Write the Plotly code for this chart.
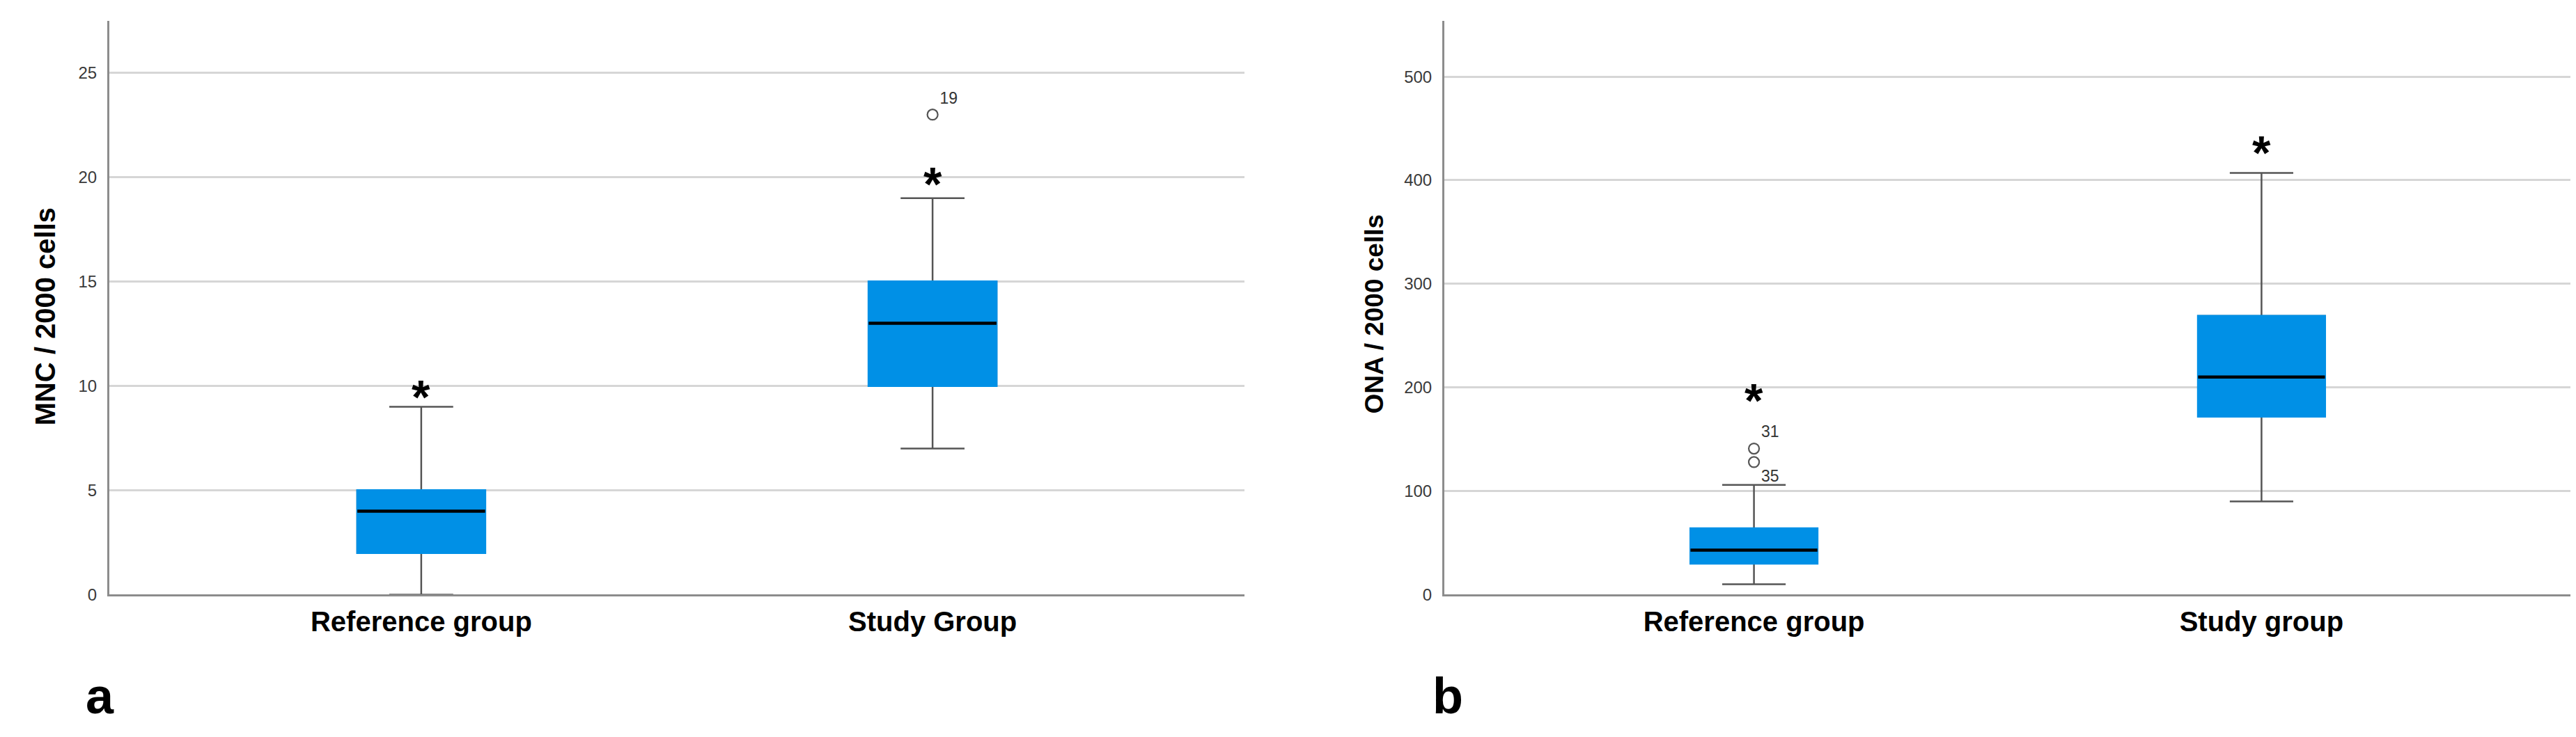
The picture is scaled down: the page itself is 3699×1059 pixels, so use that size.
import plotly.graph_objects as go

# ---------------- data ----------------
cats_a = ["Reference group", "Study Group"]
mnc_low = [0, 7]
mnc_q1 = [2, 10]
mnc_med = [4, 13]
mnc_q3 = [5, 15]
mnc_high = [9, 19]
mnc_out_x = ["Study Group"]
mnc_out_y = [23]
mnc_out_lab = ["19"]
mnc_star_y = [9.7, 19.9]

cats_b = ["Reference group", "Study group"]
ona_low = [10, 90]
ona_q1 = [30, 172]
ona_med = [43, 210]
ona_q3 = [64, 269]
ona_high = [106, 407]
ona_out_x = ["Reference group", "Reference group"]
ona_out_y = [141, 128]
ona_out_lab = ["31", "35"]
ona_star_y = [192, 431]

yticks_a = [0, 5, 10, 15, 20, 25]
yticks_b = [0, 100, 200, 300, 400, 500]

# ---------------- style ----------------
W, H = 3699, 1059
BLUE = "#0090E6"
WHISK = "#555555"
GRID = "#d6d6d6"
AXIS = "#8c8c8c"
BOXW = 0.25
FONT = "Liberation Sans, Arial, sans-serif"

fig = go.Figure()


def add_panel(xa, ya, cats, low, q1, med, q3, high):
    # whiskers + box (gray outline)
    fig.add_trace(go.Box(x=cats, q1=q1, median=med, q3=q3, lowerfence=low, upperfence=high,
                         fillcolor=BLUE, line=dict(color=WHISK, width=2.5), width=BOXW,
                         whiskerwidth=0.5, xaxis=xa, yaxis=ya, showlegend=False,
                         hoverinfo="skip", boxpoints=False))
    # blue box covering the outline
    fig.add_trace(go.Box(x=cats, q1=q1, median=q1, q3=q3, lowerfence=q1, upperfence=q3,
                         fillcolor=BLUE, line=dict(color=BLUE, width=3), width=BOXW,
                         whiskerwidth=0, xaxis=xa, yaxis=ya, showlegend=False,
                         hoverinfo="skip", boxpoints=False))
    # black median
    fig.add_trace(go.Box(x=cats, q1=med, median=med, q3=med, lowerfence=med, upperfence=med,
                         fillcolor="rgba(0,0,0,0)", line=dict(color="black", width=4.5), width=BOXW,
                         whiskerwidth=0, xaxis=xa, yaxis=ya, showlegend=False,
                         hoverinfo="skip", boxpoints=False))


add_panel("x", "y", cats_a, mnc_low, mnc_q1, mnc_med, mnc_q3, mnc_high)
add_panel("x2", "y2", cats_b, ona_low, ona_q1, ona_med, ona_q3, ona_high)

# outliers
fig.add_trace(go.Scatter(x=mnc_out_x, y=mnc_out_y, text=mnc_out_lab, mode="markers+text",
                         textposition="top right",
                         marker=dict(symbol="circle-open", size=15, color=WHISK, line=dict(width=2.2)),
                         textfont=dict(family=FONT, size=23, color="#333333"),
                         xaxis="x", yaxis="y", showlegend=False, hoverinfo="skip"))
fig.add_trace(go.Scatter(x=ona_out_x, y=ona_out_y, text=ona_out_lab, mode="markers+text",
                         textposition=["top right", "bottom right"],
                         marker=dict(symbol="circle-open", size=15, color=WHISK, line=dict(width=2.2)),
                         textfont=dict(family=FONT, size=23, color="#333333"),
                         xaxis="x2", yaxis="y2", showlegend=False, hoverinfo="skip"))

# significance stars
for xs, ys, xr, yr in [(cats_a, mnc_star_y, "x", "y"), (cats_b, ona_star_y, "x2", "y2")]:
    for cx, cy in zip(xs, ys):
        fig.add_annotation(x=cx, y=cy, xref=xr, yref=yr, text="<b>*</b>", showarrow=False,
                           yanchor="middle", yshift=-6,
                           font=dict(family=FONT, size=68, color="black"))

# y-axis titles
fig.add_annotation(x=57 / W, y=1 - 452 / H, xref="paper", yref="paper", text="<b>MNC / 2000 cells</b>",
                   textangle=-90, showarrow=False, xanchor="center", yanchor="middle",
                   font=dict(family=FONT, size=40, color="black"))
fig.add_annotation(x=1965 / W, y=1 - 449 / H, xref="paper", yref="paper", text="<b>ONA / 2000 cells</b>",
                   textangle=-90, showarrow=False, xanchor="center", yanchor="middle",
                   font=dict(family=FONT, size=37, color="black"))

# panel letters
fig.add_annotation(x=113 / W, y=12 / H, xref="paper", yref="paper", text="<b>a</b>", showarrow=False,
                   xanchor="left", yanchor="bottom", font=dict(family=FONT, size=72, color="black"))
fig.add_annotation(x=2047 / W, y=12 / H, xref="paper", yref="paper", text="<b>b</b>", showarrow=False,
                   xanchor="left", yanchor="bottom", font=dict(family=FONT, size=72, color="black"))

ydom = [1 - 857 / H, 1 - 22 / H]
xcommon = dict(type="category", range=[-0.61, 1.61], showline=True, linecolor=AXIS, linewidth=3,
               showgrid=False, zeroline=False, ticks="", ticklabelstandoff=2,
               tickfont=dict(family=FONT, size=40, color="black"))
ycommon = dict(showline=True, linecolor=AXIS, linewidth=3, showgrid=True, gridcolor=GRID, gridwidth=3,
               zeroline=False, ticks="", ticklabelstandoff=10,
               tickfont=dict(family=FONT, size=24, color="#3a3a3a"))

fig.update_layout(
    width=W, height=H, margin=dict(l=0, r=0, t=0, b=0),
    paper_bgcolor="white", plot_bgcolor="white", boxmode="overlay", showlegend=False,
    xaxis=dict(domain=[149 / W, 1779 / W], anchor="y", categoryarray=cats_a, categoryorder="array",
               tickvals=cats_a, ticktext=["<b>" + c + "</b>" for c in cats_a], **xcommon),
    yaxis=dict(domain=ydom, anchor="x", range=[0, 27.5], tickvals=yticks_a, **ycommon),
    xaxis2=dict(domain=[2066 / W, 3684 / W], anchor="y2", categoryarray=cats_b, categoryorder="array",
                tickvals=cats_b, ticktext=["<b>" + c + "</b>" for c in cats_b], **xcommon),
    yaxis2=dict(domain=ydom, anchor="x2", range=[0, 554], tickvals=yticks_b, **ycommon),
)

fig.write_html("out.html")
